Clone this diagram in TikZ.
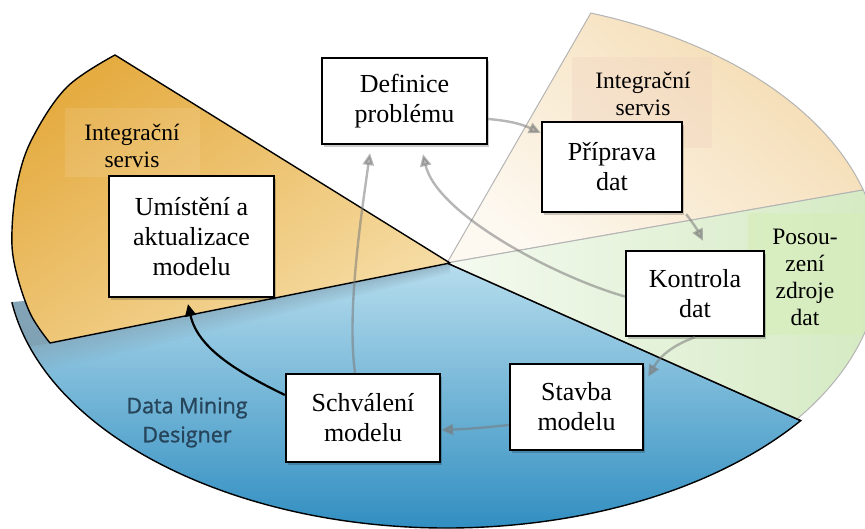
\documentclass[tikz,border=0pt]{standalone}
\usepackage{fontspec}
\setmainfont{Liberation Serif}
\newfontfamily\dmfont[FakeBold=1.2]{Open Sans}
\usetikzlibrary{arrows.meta,shadows,calc}
\definecolor{blueTop}{HTML}{B7DDED}
\definecolor{blueBot}{HTML}{2889BE}
\definecolor{orangeDark}{HTML}{E5AC42}
\definecolor{orangeLight}{HTML}{F6DDA6}
\definecolor{beigeDark}{HTML}{F4DBB0}
\definecolor{beigeLight}{HTML}{FDF8F0}
\definecolor{greenDark}{HTML}{D3E9C0}
\definecolor{greenLight}{HTML}{F4FAF0}
\definecolor{shadowc}{HTML}{7E9CAE}
\definecolor{arrowgray}{HTML}{7A7A7A}
\definecolor{dmtext}{HTML}{26445A}
\definecolor{edgegray}{HTML}{B4B4B4}
\definecolor{beigeRect}{HTML}{F0D2C0}
\definecolor{greenRect}{HTML}{D6EDB8}
\begin{document}
\begin{tikzpicture}[x=1pt,y=1pt,
  procbox/.style={draw, line width=2.3pt, fill=white, align=center, inner sep=0pt,
    font=\fontsize{26}{30}\selectfont,
    drop shadow={shadow xshift=2pt,shadow yshift=-3pt,opacity=0.2,fill=black}},
  sidelabel/.style={align=center, inner sep=0pt, font=\fontsize{23.5}{27}\selectfont},
  garrow/.style={draw=arrowgray, line width=2.4pt, opacity=0.55,
    -{Triangle[length=12pt,width=11pt]}},
  karrow/.style={draw=black, line width=2.2pt, -{Triangle[length=12pt,width=11pt]}},
  blackedge/.style={draw=black, line width=1.4pt},
  grayedge/.style={draw=edgegray, line width=1pt}
]
\useasboundingbox (0,0) rectangle (865,529);
\clip (0,0) rectangle (865,529);
\coordinate (C) at (447,266);

% blue sector
\def\bluepath{(C) -- ++(188.5:440pt and 265pt) arc[start angle=188.5, end angle=323.5, x radius=440pt, y radius=265pt] -- cycle}
\shade[top color=blueTop, bottom color=blueBot] \bluepath;
\begin{scope}
  \clip \bluepath;
  \fill[shadowc, opacity=0.85] (0,176) -- (450,266) -- (450,320) -- (0,320) -- cycle;
  \foreach \d in {0,3,...,27} {
    \fill[shadowc, opacity={0.55*(1-\d/30)}] (0,{176-\d}) -- (450,{266-0.35*\d}) -- (450,{266-0.35*(\d+3)}) -- (0,{176-\d-3}) -- cycle;
  }
\end{scope}
\draw[blackedge] (C) ++(188.5:440pt and 265pt) arc[start angle=188.5, end angle=323.5, x radius=440pt, y radius=265pt] -- (C);

% beige sector
\def\beigepath{(C) -- ++(70.6:433pt and 265pt) arc[start angle=70.6, end angle=16, x radius=433pt, y radius=265pt] -- cycle}
\shade[top color=beigeDark, bottom color=beigeLight, shading angle=-40] \beigepath;
\begin{scope}
  \clip \beigepath;
  \fill[fill=beigeRect, opacity=0.35] (572,381) rectangle (712,472);
\end{scope}
\draw[grayedge] \beigepath;

% green sector
\def\greenpath{(C) -- ++(16:433pt and 265pt) arc[start angle=16, end angle=-36, x radius=433pt, y radius=265pt] -- cycle}
\shade[left color=greenLight, right color=greenDark] \greenpath;
\begin{scope}
  \clip \greenpath;
  \fill[fill=greenRect, opacity=0.6] (748,194) rectangle (865,316);
\end{scope}
\draw[grayedge] \greenpath;
\draw[blackedge] (C) -- ++(-36.5:440pt and 265pt);

% orange sector
\def\orangepath{(450,266) -- plot[smooth, tension=0.6] coordinates {(115,474) (67,442) (33,392) (18,349) (12,299) (15,262) (30,216) (50,186)} -- cycle}
\shade[top color=orangeDark, bottom color=orangeLight, shading angle=35] \orangepath;
\fill[white, opacity=0.1] (65,352) rectangle (200,421);
\draw[blackedge, line join=round] \orangepath;

% side labels
\node[sidelabel] (int1) at (132,383) {Integrační\\servis};
\node[sidelabel] (int2) at (643,435) {Integrační\\servis};
\node[sidelabel] (pos) at (805,251.5) {Posou-\\zení\\zdroje\\dat};
\node[align=center, inner sep=0pt, text=dmtext, font=\dmfont\fontsize{21.5}{29}\selectfont] (dm) at (187,106.5) {Data Mining\\Designer};

% boxes
\node[procbox, minimum width=165pt, minimum height=86pt] (def) at (404.5,428) {Definice\\problému};
\node[procbox, minimum width=165pt, minimum height=121pt] (umi) at (191.5,292.5) {Umístění a\\aktualizace\\modelu};
\node[procbox, minimum width=140pt, minimum height=90pt] (pri) at (612,362) {Příprava\\dat};
\node[procbox, minimum width=138pt, minimum height=85pt] (kon) at (695,235.5) {Kontrola\\dat};
\node[procbox, minimum width=133pt, minimum height=86pt] (sta) at (576.5,122) {Stavba\\modelu};
\node[procbox, minimum width=154pt, minimum height=88pt] (sch) at (363,111) {Schválení\\modelu};

% arrows
\draw[garrow] ([yshift=-18pt]def.east) to[bend left=10] ([yshift=34pt]pri.west);
\draw[garrow] ([xshift=3pt,yshift=-1pt]pri.south east) to[bend left=5] ([xshift=8pt,yshift=9pt]kon.north);
\draw[garrow] (kon.south) to[bend right=20] ([xshift=4pt,yshift=-14pt]sta.north east);
\draw[garrow] ([yshift=-18pt]sta.west) to[bend left=2] ([yshift=-12pt]sch.east);
\draw[garrow] ([xshift=-8pt]sch.north) .. controls +(-8,60) and +(-10,-70) .. ([xshift=-34.5pt,yshift=-8pt]def.south);
\draw[garrow] ([yshift=-3pt]kon.west) .. controls +(-70,20) and +(14,-60) .. ([xshift=18.5pt,yshift=-9pt]def.south);
\draw[karrow] ([yshift=23pt]sch.west) .. controls +(-45,22) and +(10,-45) .. ([xshift=-3.5pt,yshift=-6pt]umi.south);
\end{tikzpicture}
\end{document}
